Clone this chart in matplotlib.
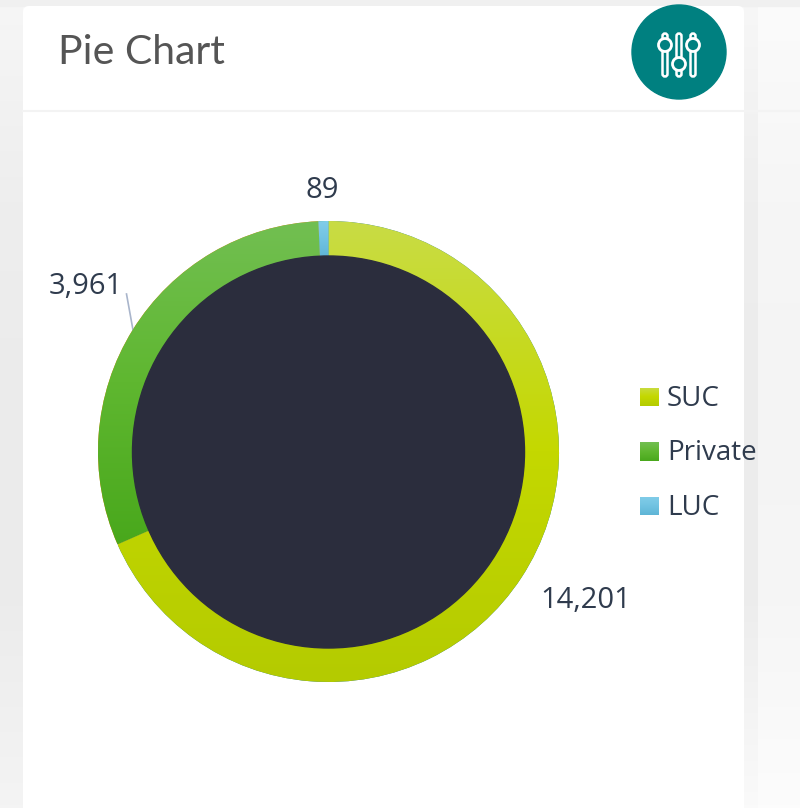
import numpy as np
import matplotlib
matplotlib.use("Agg")
import matplotlib.pyplot as plt
from matplotlib.colors import LinearSegmentedColormap
from matplotlib.patches import Circle, FancyBboxPatch, Rectangle

categories = ["SUC", "Private", "LUC"]
# share of the ring as drawn in the picture (the ring is not proportional to the printed labels)
drawn_shares = [68.4, 30.9, 0.7]
value_labels = ["14,201", "3,961", "89"]

grad_colors = [
    ["#c9dc45", "#c4d800", "#b4cb00"],
    ["#72bf52", "#5fb730", "#49a81c"],
    ["#82cde9", "#72c3e2", "#5fb5d6"],
]
text_color = "#2f3b4d"
H = 808


def y_(y):
    # picture y (from the top) to axes y
    return H - y


def gradient_fill(ax, patch, colors):
    cmap = LinearSegmentedColormap.from_list("g", colors)
    box = patch.get_path().get_extents(patch.get_patch_transform())
    grad = np.linspace(0, 1, 256).reshape(-1, 1)
    im = ax.imshow(grad, cmap=cmap, aspect="auto", zorder=3,
                   extent=(box.x0, box.x1, box.y0, box.y1), origin="upper")
    im.set_clip_path(patch)


def shade_strip(ax, x0, x1, colors):
    # soft page shadow, lighter at the top and bottom
    cmap = LinearSegmentedColormap.from_list("s", colors)
    grad = np.linspace(0, 1, 256).reshape(-1, 1)
    ax.imshow(grad, cmap=cmap, aspect="auto", zorder=0, extent=(x0, x1, 0, H), origin="upper")


fig = plt.figure(figsize=(8.0, 8.08), dpi=100, facecolor="#f8f8f8")
ax = fig.add_axes([0, 0, 1, 1])

# page and card
shade_strip(ax, 0, 23, ["#f6f6f6", "#eeeeee", "#ebebeb", "#ececec", "#f4f4f4"])
shade_strip(ax, 744, 758, ["#f7f7f7", "#eeeeee", "#ececec", "#ededed", "#fafafa"])
shade_strip(ax, 758, 800, ["#fbfbfb", "#f6f6f6", "#f4f4f4", "#f6f6f6", "#fcfcfc"])
ax.add_patch(Rectangle((0, y_(6)), 800, 6, color="#f0f0f0", zorder=0.5))
ax.add_patch(FancyBboxPatch((23, -20), 721, y_(6) + 20, boxstyle="round,pad=0,rounding_size=6", fc="white",
                            lw=0, zorder=1))
ax.plot([23, 800], [y_(110.5), y_(110.5)], color="#f3f3f3", lw=1.5, zorder=2)

ax.text(58, y_(53), "Pie Chart", fontsize=29.5, family="Lato", color="#555555",
        ha="left", va="center", zorder=5)

# settings icon
ax.add_patch(Circle((679, y_(52)), 47, color="#008080", zorder=3))
for x, ky in zip([665, 679, 693], [45, 64, 45]):
    ax.add_patch(FancyBboxPatch((x - 2.5, y_(76.5)), 5, 43, boxstyle="round,pad=0,rounding_size=2.5",
                                fc="none", ec="white", lw=1.8, zorder=4))
    ax.add_patch(Circle((x, y_(ky)), 6.5, fc="#008080", ec="white", lw=2, zorder=5))

# ring
wedges, _ = ax.pie(drawn_shares, startangle=90, counterclock=False, center=(328.5, y_(451.5)), radius=230.5,
                   frame=True, wedgeprops={"width": 36, "linewidth": 0})
for w, c in zip(wedges, grad_colors):
    w.set_zorder(2)
    gradient_fill(ax, w, c)
ax.add_patch(Circle((328.5, y_(452)), 196, color="#2b2d3d", zorder=4))

# value labels
ax.plot([126.5, 133], [y_(294), y_(330)], color="#a9b5cb", lw=1.2, zorder=2)
ax.text(322, y_(191), value_labels[2], fontsize=21, family="Open Sans", color=text_color, ha="center", va="center", zorder=5)
ax.text(86, y_(286), value_labels[1], fontsize=21, family="Open Sans", color=text_color, ha="center", va="center", zorder=5)
ax.text(586, y_(601), value_labels[0], fontsize=21, family="Open Sans", color=text_color, ha="center", va="center", zorder=5)

# legend
for name, c, ly in zip(categories, grad_colors, [397, 451.5, 506]):
    sq = Rectangle((640, y_(ly + 9.5)), 19, 19, lw=0, fc="none", zorder=2)
    ax.add_patch(sq)
    gradient_fill(ax, sq, c)
    ax.text(667, y_(ly + 2), name, fontsize=20, family="Open Sans", color=text_color, ha="left", va="center", zorder=5)

ax.set_xlim(0, 800)
ax.set_ylim(0, H)
ax.set_aspect("auto")
ax.axis("off")

fig.savefig("out.png", dpi=100, facecolor=fig.get_facecolor())
